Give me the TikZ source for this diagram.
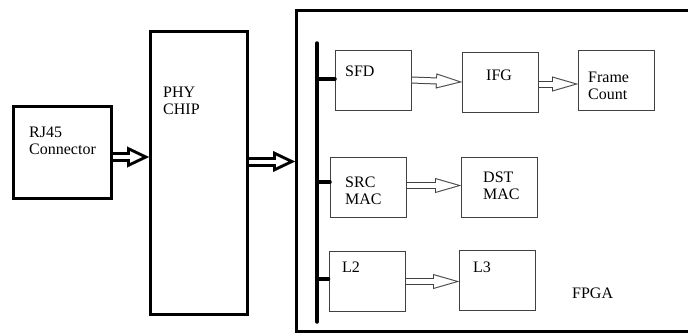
\documentclass[tikz,border=0pt]{standalone}
\usepackage{fontspec}
\setmainfont{Liberation Serif}
\usetikzlibrary{positioning, arrows.meta, calc}

\begin{document}
\begin{tikzpicture}[x=1pt, y=-1pt, font=\fontsize{16}{17}\selectfont,
    thickbox/.style = {draw, line width=3pt, inner sep=0pt},
    thinbox/.style = {draw=black!75, line width=1pt, minimum width=76pt, minimum height=60pt, inner sep=0pt},
    txt/.style = {anchor=base west, align=left, inner sep=0pt},
    bus/.style = {line width=3.5pt, line cap=round},
    fatarrow/.style = {line width=10pt, -{Triangle[length=22pt, width=21pt, line width=0.1pt]},
        postaction={draw, white, line width=4pt, -{Triangle[length=12pt, width=11.5pt, line width=0.1pt]}, shorten >=7pt}},
    slimarrow/.style = {black!75, line width=7pt, -{Triangle[length=26pt, width=15pt, line width=0.1pt]},
        postaction={draw, white, line width=5pt, -{Triangle[length=21.4pt, width=12.3pt, line width=0.1pt]}, shorten >=3.6pt}}]
    \useasboundingbox (0,0) rectangle (688,335);

    % outer blocks
    \node[thickbox, minimum width=98pt, minimum height=92pt] (rj) at (62.5,152.5) {};
    \node[thickbox, minimum width=97pt, minimum height=283pt] (phy) at (199,173) {};
    \node[thickbox, minimum width=423.5pt, minimum height=321pt] (fpga) at (508.25,171) {};

    % blocks inside the FPGA
    \node[thinbox] (sfd) at (373.5,80) {};
    \node[thinbox] (ifg) at (500.5,82) {};
    \node[thinbox] (frame) at (616.5,80) {};
    \node[thinbox] (src) at (368.5,187) {};
    \node[thinbox] (dst) at (499.5,187.5) {};
    \node[thinbox] (l2) at (367,281.5) {};
    \node[thinbox] (l3) at (497.5,280.5) {};

    % labels (base = last line)
    \node[txt] (rjtxt) at (29,154) {RJ45\\Connector};
    \node[txt] (phytxt) at (163,114) {PHY\\CHIP};
    \node[txt] (sfdtxt) at (345,76) {SFD};
    \node[txt] (ifgtxt) at (486,80) {IFG};
    \node[txt] (frametxt) at (588,99) {Frame\\Count};
    \node[txt] (srctxt) at (345,204) {SRC\\MAC};
    \node[txt] (dsttxt) at (483,199) {DST\\MAC};
    \node[txt] (l2txt) at (342,272) {L2};
    \node[txt] (l3txt) at (473,272) {L3};
    \node[txt] (fpgatxt) at (572,298) {FPGA};

    % bus
    \coordinate (bustop) at (317,43);
    \coordinate (busbot) at (317,322);
    \coordinate (sfdin) at ([yshift=1pt]sfd.west);
    \coordinate (srcin) at ([yshift=5pt]src.west);
    \coordinate (l2in) at ([yshift=2.5pt]l2.west);
    \draw[bus] (bustop) -- (busbot);
    \draw[bus] (sfdin -| bustop) -- (sfdin);
    \draw[bus] (srcin -| bustop) -- (srcin);
    \draw[bus] (l2in -| bustop) -- (l2in);

    % data flow
    \coordinate (a1) at ([yshift=-4.5pt]rj.east);
    \coordinate (a2) at ([yshift=11.5pt]phy.east);
    \coordinate (a3) at ([yshift=-2pt]ifg.east);
    \coordinate (a4) at ([yshift=1.5pt]src.east);
    \draw[fatarrow] (a1) -- (a1 -| phy.west);
    \draw[fatarrow] (a2) -- (a2 -| fpga.west);
    \draw[slimarrow] (sfd.east) -- (ifg.west);
    \draw[slimarrow] (a3) -- (a3 -| frame.west);
    \draw[slimarrow] (a4) -- (a4 -| dst.west);
    \draw[slimarrow] (l2.east) -- (l2.east -| l3.west);
\end{tikzpicture}
\end{document}
